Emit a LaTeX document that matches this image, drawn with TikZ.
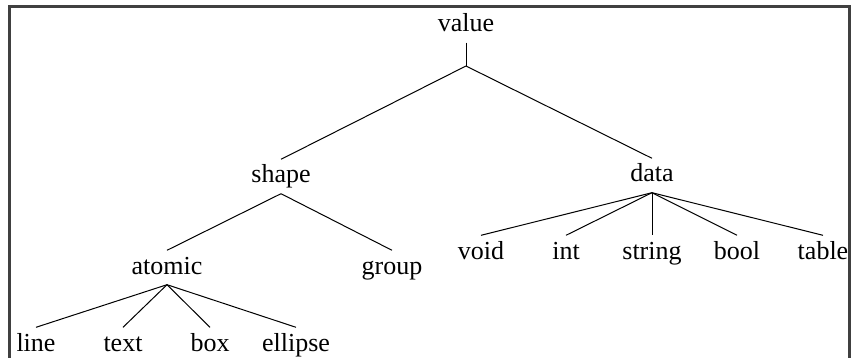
\documentclass[tikz,border=0pt]{standalone}
\usepackage{fontspec}
\setmainfont{Liberation Serif}
\begin{document}
\begin{tikzpicture}[x=1pt,y=-1pt,
  lbl/.style={anchor=base,inner sep=0pt,text height=23.5pt,text depth=10.5pt,
    font=\fontsize{26}{30}\selectfont},
  edge/.style={line width=1pt,black},
  frame/.style={line width=2.2pt,black!75}]
\useasboundingbox (0,0) rectangle (851,358);
% open frame around the tree
\draw[frame] (9.5,362) -- (9.5,6.5) -- (849.5,6.5) -- (849.5,362);

% nodes
\node[lbl] (value)   at (466,32)  {value};
\coordinate (vj) at (466,66);
\node[lbl] (shape)   at (281,183) {shape};
\node[lbl] (data)    at (652,182) {data};
\node[lbl] (atomic)  at (167,274) {atomic};
\node[lbl] (group)   at (392,274) {group};
\node[lbl] (line)    at (36,351)  {line};
\node[lbl] (text)    at (123,351) {text};
\node[lbl] (box)     at (210,351) {box};
\node[lbl] (ellipse) at (296,351) {ellipse};
\node[lbl] (void)    at (481,259) {void};
\node[lbl] (int)     at (566,259) {int};
\node[lbl] (string)  at (652,259) {string};
\node[lbl] (bool)    at (737,259) {bool};
\node[lbl] (table)   at (823,259) {table};

% connectors
\draw[edge] (value.south) -- (vj);
\draw[edge] (vj) -- (shape.north);
\draw[edge] (vj) -- (data.north);
\foreach \c in {atomic,group} \draw[edge] (shape.south) -- (\c.north);
\foreach \c in {line,text,box,ellipse} \draw[edge] (atomic.south) -- (\c.north);
\foreach \c in {void,int,string,bool,table} \draw[edge] (data.south) -- (\c.north);
\end{tikzpicture}
\end{document}
